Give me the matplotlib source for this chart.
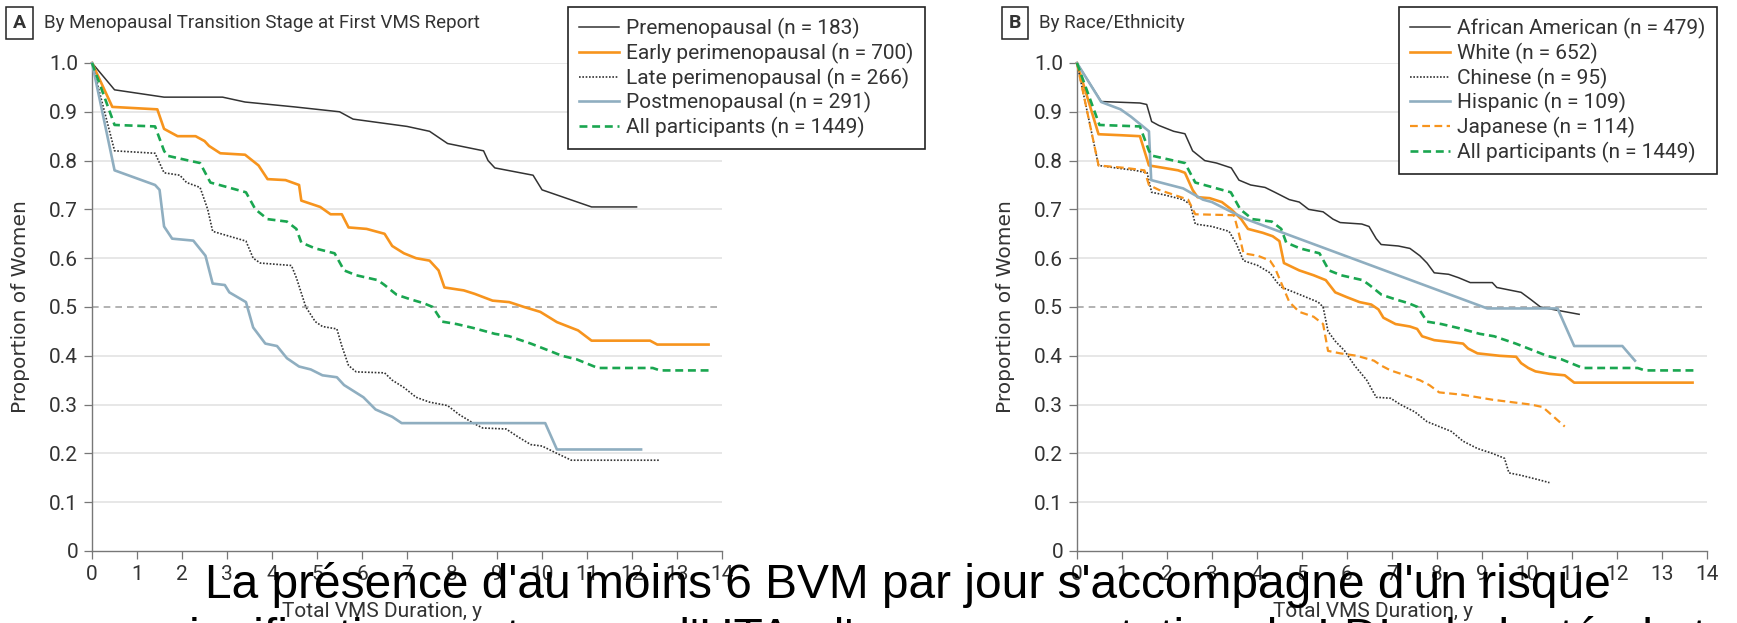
import matplotlib

matplotlib.use("Agg")
import matplotlib.pyplot as plt

# panel A: menopausal transition stage
pre_x = [0, 0.5, 1.6, 2.9, 3.4, 4.5, 5.5, 5.8, 7.0, 7.5, 7.9, 8.7, 8.8, 8.95, 9.8, 10.0, 11.1, 12.1]
pre_y = [1.0, 0.945, 0.93, 0.93, 0.92, 0.91, 0.90, 0.885, 0.87, 0.86, 0.835, 0.82, 0.80, 0.785, 0.77, 0.74, 0.705, 0.705]

early_x = [0, 0.45, 1.45, 1.6, 1.9, 2.3, 2.5, 2.6, 2.85, 3.4, 3.7, 3.9, 4.3, 4.6, 4.65, 5.07, 5.3, 5.55, 5.7,
           6.1, 6.5, 6.67, 6.93, 7.2, 7.5, 7.7, 7.83, 8.26, 8.5, 8.9, 9.27, 9.6, 9.96, 10.33, 10.8, 11.1, 12.4,
           12.56, 13.7]
early_y = [1.0, 0.91, 0.905, 0.865, 0.85, 0.85, 0.84, 0.83, 0.815, 0.812, 0.79, 0.762, 0.76, 0.75, 0.718, 0.705,
           0.69, 0.69, 0.663, 0.66, 0.65, 0.625, 0.61, 0.60, 0.595, 0.575, 0.54, 0.534, 0.527, 0.513, 0.51, 0.50,
           0.49, 0.469, 0.452, 0.431, 0.431, 0.423, 0.423]

late_x = [0, 0.5, 1.4, 1.6, 1.95, 2.1, 2.4, 2.57, 2.68, 3.05, 3.42, 3.58, 3.74, 4.43, 4.54, 4.75, 4.96, 5.12,
          5.44, 5.55, 5.7, 5.87, 6.5, 6.67, 6.93, 7.2, 7.5, 7.9, 8.15, 8.47, 8.68, 9.2, 9.48, 9.75, 10.0, 10.33,
          10.65, 12.6]
late_y = [1.0, 0.82, 0.815, 0.775, 0.77, 0.755, 0.745, 0.70, 0.655, 0.645, 0.635, 0.60, 0.59, 0.585, 0.56, 0.50,
          0.47, 0.46, 0.455, 0.42, 0.38, 0.367, 0.365, 0.35, 0.335, 0.315, 0.305, 0.298, 0.28, 0.262, 0.252, 0.25,
          0.233, 0.218, 0.215, 0.20, 0.186, 0.186]

post_x = [0, 0.5, 1.4, 1.5, 1.6, 1.78, 2.25, 2.52, 2.68, 2.95, 3.05, 3.42, 3.58, 3.85, 4.11, 4.33, 4.6, 4.86,
          5.12, 5.44, 5.6, 6.03, 6.3, 6.67, 6.88, 10.07, 10.33, 12.2]
post_y = [1.0, 0.78, 0.75, 0.74, 0.665, 0.64, 0.636, 0.605, 0.548, 0.545, 0.53, 0.51, 0.458, 0.425, 0.42, 0.395,
          0.378, 0.372, 0.36, 0.356, 0.34, 0.315, 0.29, 0.275, 0.262, 0.262, 0.208, 0.208]

all_x = [0, 0.5, 1.4, 1.6, 1.67, 2.15, 2.4, 2.63, 2.95, 3.42, 3.63, 3.9, 4.33, 4.54, 4.65, 4.96, 5.39, 5.6, 5.87,
         6.35, 6.5, 6.77, 7.1, 7.36, 7.57, 7.78, 8.1, 8.47, 8.95, 9.27, 9.75, 10.17, 10.44, 10.76, 11.24, 12.46,
         12.62, 13.7]
all_y = [1.0, 0.873, 0.87, 0.82, 0.81, 0.80, 0.795, 0.755, 0.747, 0.735, 0.70, 0.68, 0.675, 0.66, 0.632, 0.62,
         0.61, 0.575, 0.565, 0.555, 0.545, 0.525, 0.515, 0.508, 0.50, 0.47, 0.465, 0.457, 0.445, 0.44, 0.425, 0.41,
         0.40, 0.393, 0.375, 0.375, 0.37, 0.37]

# panel B: race / ethnicity
aa_x = [0, 0.54, 1.4, 1.55, 1.66, 1.82, 2.15, 2.4, 2.57, 2.84, 3.1, 3.43, 3.6, 3.86, 4.18, 4.4, 4.72, 4.94, 5.15,
        5.47, 5.69, 5.85, 6.33, 6.49, 6.65, 6.76, 7.14, 7.4, 7.62, 7.78, 7.94, 8.26, 8.48, 8.74, 9.23, 9.33, 9.6,
        9.87, 10.09, 10.3, 10.57, 11.16]
aa_y = [1.0, 0.921, 0.918, 0.915, 0.88, 0.872, 0.86, 0.855, 0.82, 0.80, 0.795, 0.785, 0.76, 0.75, 0.745, 0.735,
        0.72, 0.715, 0.70, 0.695, 0.68, 0.673, 0.67, 0.665, 0.64, 0.628, 0.625, 0.62, 0.605, 0.59, 0.57, 0.567,
        0.56, 0.55, 0.55, 0.54, 0.535, 0.53, 0.515, 0.50, 0.495, 0.485]

white_x = [0, 0.48, 0.97, 1.4, 1.6, 1.93, 2.25, 2.4, 2.57, 2.68, 2.95, 3.22, 3.43, 3.65, 3.8, 4.13, 4.35, 4.5, 4.6,
           4.94, 5.26, 5.53, 5.74, 6.0, 6.28, 6.54, 6.7, 6.81, 7.08, 7.4, 7.56, 7.67, 7.94, 8.32, 8.58, 8.69, 8.9,
           9.39, 9.76, 9.87, 10.03, 10.19, 10.5, 10.84, 11.05, 13.68]
white_y = [1.0, 0.854, 0.852, 0.85, 0.79, 0.785, 0.78, 0.775, 0.74, 0.725, 0.723, 0.715, 0.70, 0.68, 0.66, 0.652,
           0.645, 0.635, 0.59, 0.575, 0.565, 0.555, 0.53, 0.52, 0.51, 0.505, 0.495, 0.478, 0.465, 0.46, 0.455, 0.44,
           0.432, 0.428, 0.425, 0.415, 0.405, 0.40, 0.398, 0.385, 0.375, 0.368, 0.363, 0.36, 0.345, 0.345]

chinese_x = [0, 0.48, 0.86, 1.29, 1.56, 1.66, 1.93, 2.36, 2.52, 2.63, 3.0, 3.38, 3.54, 3.7, 4.02, 4.29, 4.45, 4.56,
             4.83, 5.36, 5.47, 5.58, 5.74, 5.95, 6.17, 6.44, 6.65, 6.97, 7.19, 7.51, 7.78, 8.05, 8.32, 8.58, 8.9,
             9.23, 9.5, 9.6, 9.87, 10.3, 10.5]
chinese_y = [1.0, 0.79, 0.785, 0.78, 0.775, 0.735, 0.73, 0.72, 0.71, 0.67, 0.665, 0.655, 0.63, 0.595, 0.585, 0.57,
             0.55, 0.54, 0.53, 0.51, 0.50, 0.45, 0.43, 0.41, 0.38, 0.35, 0.315, 0.313, 0.30, 0.285, 0.265, 0.255,
             0.245, 0.225, 0.21, 0.20, 0.19, 0.16, 0.155, 0.145, 0.14]

hisp_x = [0, 0.54, 0.97, 1.2, 1.4, 1.6, 1.65, 2.36, 2.8, 3.0, 3.43, 3.76, 9.12, 10.68, 11.05, 12.12, 12.4]
hisp_y = [1.0, 0.92, 0.905, 0.89, 0.875, 0.86, 0.76, 0.743, 0.72, 0.715, 0.695, 0.68, 0.497, 0.497, 0.42, 0.42, 0.39]

jap_x = [0, 0.48, 1.07, 1.5, 1.6, 1.82, 2.15, 2.47, 2.63, 3.49, 3.6, 3.7, 4.02, 4.29, 4.4, 4.56, 4.72, 4.94, 5.26,
         5.47, 5.58, 5.85, 6.22, 6.6, 6.76, 6.97, 7.3, 7.62, 7.83, 8.05, 8.58, 9.23, 9.66, 10.09, 10.35, 10.84]
jap_y = [1.0, 0.79, 0.785, 0.78, 0.75, 0.74, 0.73, 0.72, 0.69, 0.688, 0.65, 0.61, 0.605, 0.595, 0.58, 0.545, 0.51,
         0.49, 0.48, 0.465, 0.41, 0.405, 0.40, 0.39, 0.38, 0.37, 0.36, 0.35, 0.34, 0.325, 0.32, 0.31, 0.305, 0.30,
         0.295, 0.255]

labels_a = ["Premenopausal (n = 183)", "Early perimenopausal (n = 700)", "Late perimenopausal (n = 266)",
            "Postmenopausal (n = 291)", "All participants (n = 1449)"]
labels_b = ["African American (n = 479)", "White (n = 652)", "Chinese (n = 95)", "Hispanic (n = 109)",
            "Japanese (n = 114)", "All participants (n = 1449)"]
x_ticks = list(range(0, 15))
y_ticks = [0, 0.1, 0.2, 0.3, 0.4, 0.5, 0.6, 0.7, 0.8, 0.9, 1.0]
y_tick_labels = ["0", "0.1", "0.2", "0.3", "0.4", "0.5", "0.6", "0.7", "0.8", "0.9", "1.0"]

DARK = "#333333"
ORANGE = "#F7941D"
BLUE = "#8FAEC0"
GREEN = "#1AA650"
NARROW = "Roboto"

styles = {
    "dark": dict(color=DARK, lw=1.1, ls="-"),
    "orange": dict(color=ORANGE, lw=1.9, ls="-"),
    "dotted": dict(color=DARK, lw=1.2, ls=(0, (1, 1))),
    "blue": dict(color=BLUE, lw=1.9, ls="-"),
    "green": dict(color=GREEN, lw=1.9, ls=(0, (3, 1.8))),
    "jap": dict(color=ORANGE, lw=1.6, ls=(0, (3.5, 2))),
}

fig = plt.figure(figsize=(17.37, 6.23), dpi=100)
renderer = fig.canvas.get_renderer()
ax_a = fig.add_axes([0.053, 0.1156, 0.3627, 0.7833])
ax_b = fig.add_axes([0.62, 0.1156, 0.3627, 0.7833])


def fit(txt, width_px):
    w = txt.get_window_extent(renderer).width
    txt.set_fontsize(txt.get_fontsize() * width_px / w)


def setup_axes(ax):
    ax.set_xlim(0, 14)
    ax.set_ylim(0, 1.0)
    for yv in y_ticks[1:]:
        if abs(yv - 0.5) < 1e-9:
            ax.axhline(yv, color="#A6A6A6", lw=1.2, ls=(0, (4, 3)), zorder=1)
        else:
            ax.axhline(yv, color="#E3E3E3", lw=1.2, zorder=0.5)
    ax.set_xticks(x_ticks)
    ax.set_yticks(y_ticks)
    ax.set_yticklabels(y_tick_labels)
    for side in ("top", "right"):
        ax.spines[side].set_visible(False)
    for side in ("left", "bottom"):
        ax.spines[side].set_color("#777777")
        ax.spines[side].set_linewidth(1.0)
    ax.tick_params(direction="out", length=6, width=0.9, color="#777777", labelcolor=DARK, labelsize=15, pad=4)
    for lab in ax.get_xticklabels() + ax.get_yticklabels():
        lab.set_family(NARROW)
    ax.set_ylabel("Proportion of Women", fontsize=14.5, color=DARK, family="DejaVu Sans")
    ax.yaxis.set_label_coords(-0.098, 0.5)
    ax.set_xlabel("Total VMS Duration, y", fontsize=15, color=DARK, family=NARROW)


def draw(ax, x, y, key, label):
    ax.plot(x, y, clip_on=False, zorder=3, label=label, **styles[key])


setup_axes(ax_a)
draw(ax_a, pre_x, pre_y, "dark", labels_a[0])
draw(ax_a, early_x, early_y, "orange", labels_a[1])
draw(ax_a, late_x, late_y, "dotted", labels_a[2])
draw(ax_a, post_x, post_y, "blue", labels_a[3])
draw(ax_a, all_x, all_y, "green", labels_a[4])
ax_a.xaxis.set_label_coords(0.46, -0.105)

setup_axes(ax_b)
draw(ax_b, aa_x, aa_y, "dark", labels_b[0])
draw(ax_b, white_x, white_y, "orange", labels_b[1])
draw(ax_b, chinese_x, chinese_y, "dotted", labels_b[2])
draw(ax_b, hisp_x, hisp_y, "blue", labels_b[3])
draw(ax_b, jap_x, jap_y, "jap", labels_b[4])
draw(ax_b, all_x, all_y, "green", labels_b[5])
ax_b.xaxis.set_label_coords(0.47, -0.105)


def add_legend(ax, anchor):
    handles, labels = ax.get_legend_handles_labels()
    leg = fig.legend(handles, labels, loc="upper left", bbox_to_anchor=anchor, bbox_transform=fig.transFigure,
                     frameon=True, fancybox=False, edgecolor="#222222", framealpha=1,
                     prop={"family": NARROW, "size": 15}, handlelength=1.9, handletextpad=0.35,
                     labelspacing=0.17, borderpad=0.55, borderaxespad=0)
    leg.get_frame().set_linewidth(1.2)
    for t in leg.get_texts():
        t.set_color(DARK)
    return leg


add_legend(ax_a, (0.327, 0.989))
add_legend(ax_b, (0.8054, 0.989))

# panel letters and titles
for xb, xt, letter, title in [(0.0112, 0.0253, "A", "By Menopausal Transition Stage at First VMS Report"),
                              (0.5843, 0.598, "B", "By Race/Ethnicity")]:
    fig.text(xb, 0.963, letter, ha="center", va="center", fontsize=14, fontweight="bold", color=DARK,
             family=NARROW, bbox=dict(boxstyle="square,pad=0.35", fc="white", ec="#222222", lw=1.1))
    fig.text(xt, 0.963, title, ha="left", va="center", fontsize=13.5, color=DARK, family=NARROW)

# overlaid caption
cap1 = fig.text(205 / 1737, 1 - 598 / 623, "La présence d'au moins 6 BVM par jour s'accompagne d'un risque",
                ha="left", va="baseline", fontsize=33, color="black", family="Liberation Sans", zorder=10)
fit(cap1, 1407)
fig.text(165 / 1737, 1 - 652 / 623,
         "significativement accru d'HTA, d'une augmentation du LDL-cholestérol et de",
         ha="left", va="baseline", fontsize=cap1.get_fontsize(), color="black", family="Liberation Sans",
         zorder=10)

fig.savefig("out.png", dpi=100)
